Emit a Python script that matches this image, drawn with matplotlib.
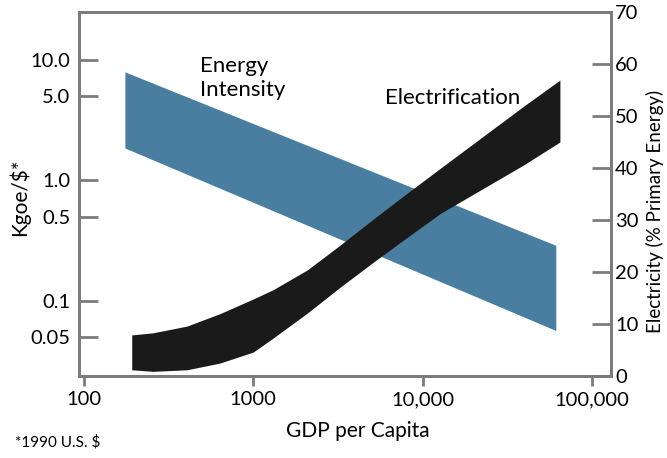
import matplotlib.pyplot as plt
from matplotlib.ticker import FixedLocator, FixedFormatter

plt.rcParams['font.family'] = ['Lato', 'DejaVu Sans']

# energy intensity band (kgoe per 1990 US$), left axis
ei_gdp = [175, 61200]
ei_upper = [7.95, 0.29]
ei_lower = [1.86, 0.057]

# electrification band (% of primary energy), right axis
el_gdp = [192, 256, 407, 638, 1000, 1313, 2088, 3270, 5130, 8150, 12800, 39600, 64700]
el_upper = [7.9, 8.3, 9.6, 12.0, 14.8, 16.6, 20.4, 25.2, 30.2, 35.2, 40.0, 51.9, 56.9]
el_lower = [1.2, 0.9, 1.2, 2.5, 4.6, 7.3, 12.1, 17.1, 21.9, 26.7, 31.3, 40.6, 45.0]

x_ticks = [100, 1000, 10000, 100000]
x_labels = ["100", "1000", "10,000", "100,000"]
left_ticks = [0.05, 0.1, 0.5, 1.0, 5.0, 10.0]
left_labels = ["0.05", "0.1", "0.5", "1.0", "5.0", "10.0"]
right_ticks = [0, 10, 20, 30, 40, 50, 60, 70]

blue = "#4a7ea0"
dark = "#1b1a1a"
grey = "#7b7b7b"

fig = plt.figure(figsize=(6.67, 4.58), dpi=100)
ax = fig.add_axes([0.118, 0.179, 0.798, 0.795])
ax2 = ax.twinx()

ax.fill_between(ei_gdp, ei_lower, ei_upper, color=blue, lw=0)
ax2.fill_between(el_gdp, el_lower, el_upper, color=dark, lw=0)

ax.set_xscale("log")
ax.set_yscale("log")
ax.set_xlim(93.4, 129500)
ax.set_ylim(0.0239, 25)
ax2.set_ylim(0, 70)

ax.xaxis.set_major_locator(FixedLocator(x_ticks))
ax.xaxis.set_major_formatter(FixedFormatter(x_labels))
ax.xaxis.set_minor_locator(FixedLocator([]))
ax.yaxis.set_major_locator(FixedLocator(left_ticks))
ax.yaxis.set_major_formatter(FixedFormatter(left_labels))
ax.yaxis.set_minor_locator(FixedLocator([]))
ax2.yaxis.set_major_locator(FixedLocator(right_ticks))

for a in (ax, ax2):
    for s in a.spines.values():
        s.set_color(grey)
        s.set_linewidth(2)

ax.tick_params(axis="x", direction="out", length=7, width=2, color=grey,
               labelsize=14.5, pad=4)
ax.tick_params(axis="y", direction="in", length=14, width=2, color=grey,
               labelsize=14.5, pad=6)
ax2.tick_params(axis="y", direction="in", length=14, width=2, color=grey,
                labelsize=14.5, pad=3)

ax.set_xlabel("GDP per Capita", fontsize=15)
ax.set_ylabel("Kgoe/$*", fontsize=15)
ax2.set_ylabel("Electricity (% Primary Energy)", fontsize=13.5)
ax.xaxis.set_label_coords(0.524, -0.151)
ax.yaxis.set_label_coords(-0.111, 0.49)
ax2.yaxis.set_label_coords(1.083, 0.453)
for lab in (ax.xaxis.label, ax.yaxis.label, ax2.yaxis.label):
    lab.set_va("center")
    lab.set_ha("center")

ax.text(486, 7.1, "Energy\nIntensity", fontsize=16, ha="left", va="center",
        linespacing=1.25)
ax.text(6040, 4.84, "Electrification", fontsize=16, ha="left", va="center")
fig.text(0.022, 0.035, "*1990 U.S. $", fontsize=11, ha="left", va="center")

fig.savefig("out.png", dpi=100)
